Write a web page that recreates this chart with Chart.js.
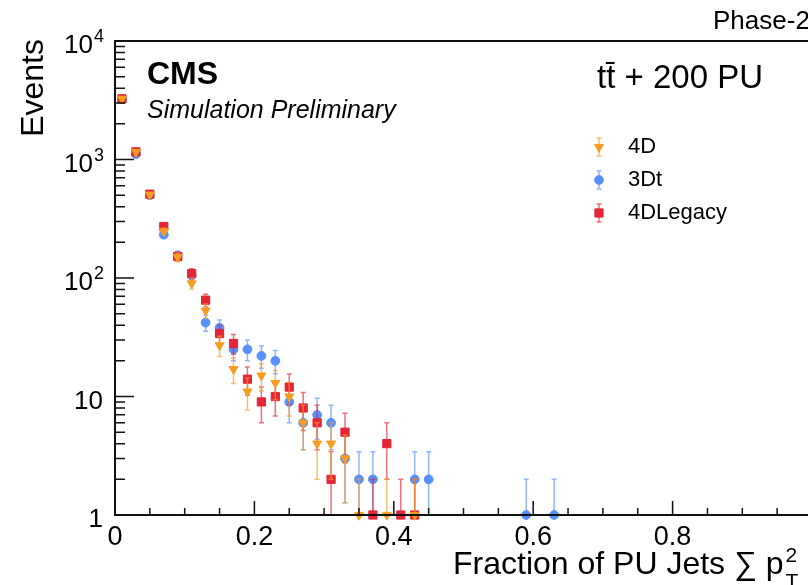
<!DOCTYPE html>
<html>
<head>
<meta charset="utf-8">
<script src="https://cdn.jsdelivr.net/npm/chart.js@4.4.1/dist/chart.umd.min.js"></script>
<style>
  html, body { margin: 0; padding: 0; background: #fff; overflow: hidden; }
  #wrap { position: absolute; left: 0; top: 0; width: 820px; height: 585px; }
</style>
</head>
<body>
<div id="wrap"><canvas id="fracChart"></canvas></div>
<script>
// bin centres (bin width 0.02) and event counts per vertex algorithm
const binCenters     = [0.01, 0.03, 0.05, 0.07, 0.09, 0.11, 0.13, 0.15, 0.17, 0.19, 0.21, 0.23, 0.25,
                        0.27, 0.29, 0.31, 0.33, 0.35, 0.37, 0.39, 0.41, 0.43, 0.45, 0.59, 0.63];
const events4D       = [3250, 1160, 505, 248, 150, 90, 53, 27, 17, 11, 15, 13, 10,
                        6, 4, 4, 3, 1, null, 1, null, 1, null, null, null];
const events3Dt      = [3230, 1110, 500, 232, 155, 105, 42, 38, 25, 25, 22, 20, 9,
                        6, 7, 6, 3, 2, 2, null, null, 2, 2, 1, 1];
const events4DLegacy = [3250, 1160, 510, 272, 152, 109, 65, 34, 28, 14, 9, 10, 12,
                        8, 6, 2, 5, null, 1, 4, 1, 1, null, null, null];

const seriesNames = ['4D', '3Dt', '4DLegacy'];

const xMajorTicks = [0, 0.2, 0.4, 0.6, 0.8];
const xTickLabels = ['0', '0.2', '0.4', '0.6', '0.8'];
const yMajorTicks = [1, 10, 100, 1000, 10000];
const yTickBase   = ['1', '10', '10', '10', '10'];
const yTickExp    = ['', '', '2', '3', '4'];

const FONT = '"Liberation Sans", Arial, Helvetica, sans-serif';

function toPoints(values) {
  const pts = [];
  binCenters.forEach((x, i) => {
    if (values[i] !== null) pts.push({ x: x, y: values[i] });
  });
  return pts;
}

const styles = {
  '4D':       { color: '#f89c20', err: 'rgba(248,156,32,0.65)', pointStyle: 'triangle', rotation: 180, radius: 5.2 },
  '3Dt':      { color: '#5790fc', err: 'rgba(87,144,252,0.65)', pointStyle: 'circle',   rotation: 0,   radius: 4.4 },
  '4DLegacy': { color: '#e42536', err: 'rgba(228,37,54,0.65)',  pointStyle: 'rect',     rotation: 0,   radius: 5.8 }
};

function makeDataset(name, values, order) {
  const s = styles[name];
  return {
    label: name,
    data: toPoints(values),
    backgroundColor: s.color,
    borderColor: s.color,
    borderWidth: 1,
    pointStyle: s.pointStyle,
    pointRotation: s.rotation,
    pointRadius: s.radius,
    pointHoverRadius: s.radius,
    showLine: false,
    clip: false,
    order: order
  };
}

// sqrt(N) error bars, drawn just before each dataset's markers
const errorBars = {
  id: 'errorBars',
  beforeDatasetDraw(chart, args) {
    const ctx = chart.ctx;
    const ds = chart.data.datasets[args.index];
    const s = styles[ds.label];
    const ys = chart.scales.y;
    const area = chart.chartArea;
    ctx.save();
    ctx.strokeStyle = s.err;
    ctx.lineWidth = 1.5;
    args.meta.data.forEach((el, j) => {
      const v = ds.data[j].y;
      const e = Math.sqrt(v);
      const yTop = ys.getPixelForValue(v + e);
      const lo = v - e;
      let yBot = lo > 0 ? ys.getPixelForValue(lo) : area.bottom;
      const botCap = yBot < area.bottom - 0.5;
      if (yBot > area.bottom) yBot = area.bottom;
      ctx.beginPath();
      ctx.moveTo(el.x, yTop); ctx.lineTo(el.x, yBot);
      ctx.moveTo(el.x - 2.5, yTop); ctx.lineTo(el.x + 2.5, yTop);
      if (botCap) { ctx.moveTo(el.x - 2.5, yBot); ctx.lineTo(el.x + 2.5, yBot); }
      ctx.stroke();
    });
    ctx.restore();
  }
};

// ROOT-like frame, inward ticks, labels and annotations
const frameAndText = {
  id: 'frameAndText',
  afterDraw(chart) {
    const ctx = chart.ctx;
    const xs = chart.scales.x, ys = chart.scales.y;
    const a = chart.chartArea;
    ctx.save();
    ctx.strokeStyle = '#111';
    ctx.fillStyle = '#000';

    // frame
    ctx.lineWidth = 2;
    ctx.strokeRect(a.left, a.top, a.right - a.left, a.bottom - a.top);

    // x ticks
    ctx.lineWidth = 1.5;
    ctx.beginPath();
    for (let k = 0; k <= 20; k++) {
      const px = xs.getPixelForValue(k * 0.05);
      const len = (k % 4 === 0) ? 14 : 7;
      ctx.moveTo(px, a.bottom); ctx.lineTo(px, a.bottom - len);
    }
    // y ticks (log)
    for (let d = 0; d < 4; d++) {
      for (let m = 1; m <= 9; m++) {
        const v = m * Math.pow(10, d);
        const py = ys.getPixelForValue(v);
        const len = (m === 1) ? 19 : 10;
        ctx.moveTo(a.left, py); ctx.lineTo(a.left + len, py);
      }
    }
    ctx.stroke();

    // x tick labels
    ctx.font = '27px ' + FONT;
    ctx.textAlign = 'center';
    ctx.textBaseline = 'alphabetic';
    xMajorTicks.forEach((t, i) => {
      ctx.fillText(xTickLabels[i], xs.getPixelForValue(t), 545);
    });

    // y tick labels
    yMajorTicks.forEach((t, i) => {
      const py = ys.getPixelForValue(t);
      if (yTickExp[i]) {
        ctx.font = '26px ' + FONT;
        ctx.textAlign = 'right';
        ctx.fillText(yTickBase[i], 93, py + 12);
        ctx.font = '18px ' + FONT;
        ctx.textAlign = 'left';
        ctx.fillText(yTickExp[i], 94, py + 1);
      } else {
        ctx.font = '26px ' + FONT;
        ctx.textAlign = 'right';
        ctx.fillText(yTickBase[i], 103, py + 12);
      }
    });

    // axis titles
    ctx.save();
    ctx.translate(43, 39);
    ctx.rotate(-Math.PI / 2);
    ctx.font = '32px ' + FONT;
    ctx.textAlign = 'right';
    ctx.fillText('Events', 0, 0);
    ctx.restore();

    ctx.font = '32px ' + FONT;
    ctx.textAlign = 'left';
    const xTitle = 'Fraction of PU Jets \u2211 p';
    ctx.fillText(xTitle, 453, 574);
    const w = ctx.measureText(xTitle).width;
    ctx.font = '21px ' + FONT;
    ctx.fillText('2', 453 + w + 2, 562);
    ctx.fillText('T', 453 + w + 2, 588);

    // annotations
    ctx.font = '26px ' + FONT;
    ctx.fillText('Phase-2', 713, 29);
    ctx.font = 'bold 32px ' + FONT;
    ctx.fillText('CMS', 147, 84);
    ctx.font = 'italic 25px ' + FONT;
    ctx.fillText('Simulation Preliminary', 147, 118);
    ctx.font = '33px ' + FONT;
    ctx.fillText('t\u0074\u0304 + 200 PU', 597, 88);

    // legend
    const rows = [147, 180, 213];
    seriesNames.forEach((name, i) => {
      const s = styles[name];
      const y = rows[i];
      ctx.strokeStyle = s.err;
      ctx.lineWidth = 1.5;
      ctx.beginPath();
      ctx.moveTo(599, y - 9); ctx.lineTo(599, y + 9);
      ctx.moveTo(596.5, y - 9); ctx.lineTo(601.5, y - 9);
      ctx.moveTo(596.5, y + 9); ctx.lineTo(601.5, y + 9);
      ctx.stroke();
      ctx.fillStyle = s.color;
      ctx.strokeStyle = s.color;
      ctx.lineWidth = 1;
      Chart.helpers.drawPoint(ctx, { pointStyle: s.pointStyle, rotation: s.rotation, radius: s.radius, borderWidth: 1 }, 599, y);
      ctx.fillStyle = '#000';
      ctx.font = '22px ' + FONT;
      ctx.textAlign = 'left';
      ctx.textBaseline = 'middle';
      ctx.fillText(name, 628, y);
      ctx.textBaseline = 'alphabetic';
    });
    ctx.restore();
  }
};

const ctx = document.getElementById('fracChart').getContext('2d');
const fracChart = new Chart(ctx, {
  type: 'scatter',
  data: {
    datasets: [
      makeDataset('4D', events4D, 0),
      makeDataset('3Dt', events3Dt, 2),
      makeDataset('4DLegacy', events4DLegacy, 1)
    ]
  },
  options: {
    responsive: true,
    maintainAspectRatio: false,
    animation: false,
    layout: { padding: { left: 115, top: 41, right: 8, bottom: 70 } },
    scales: {
      x: { type: 'linear', min: 0, max: 1, display: false },
      y: { type: 'logarithmic', min: 1, max: 10000, display: false }
    },
    plugins: {
      legend: { display: false },
      tooltip: { enabled: false }
    }
  },
  plugins: [errorBars, frameAndText]
});
</script>
</body>
</html>
